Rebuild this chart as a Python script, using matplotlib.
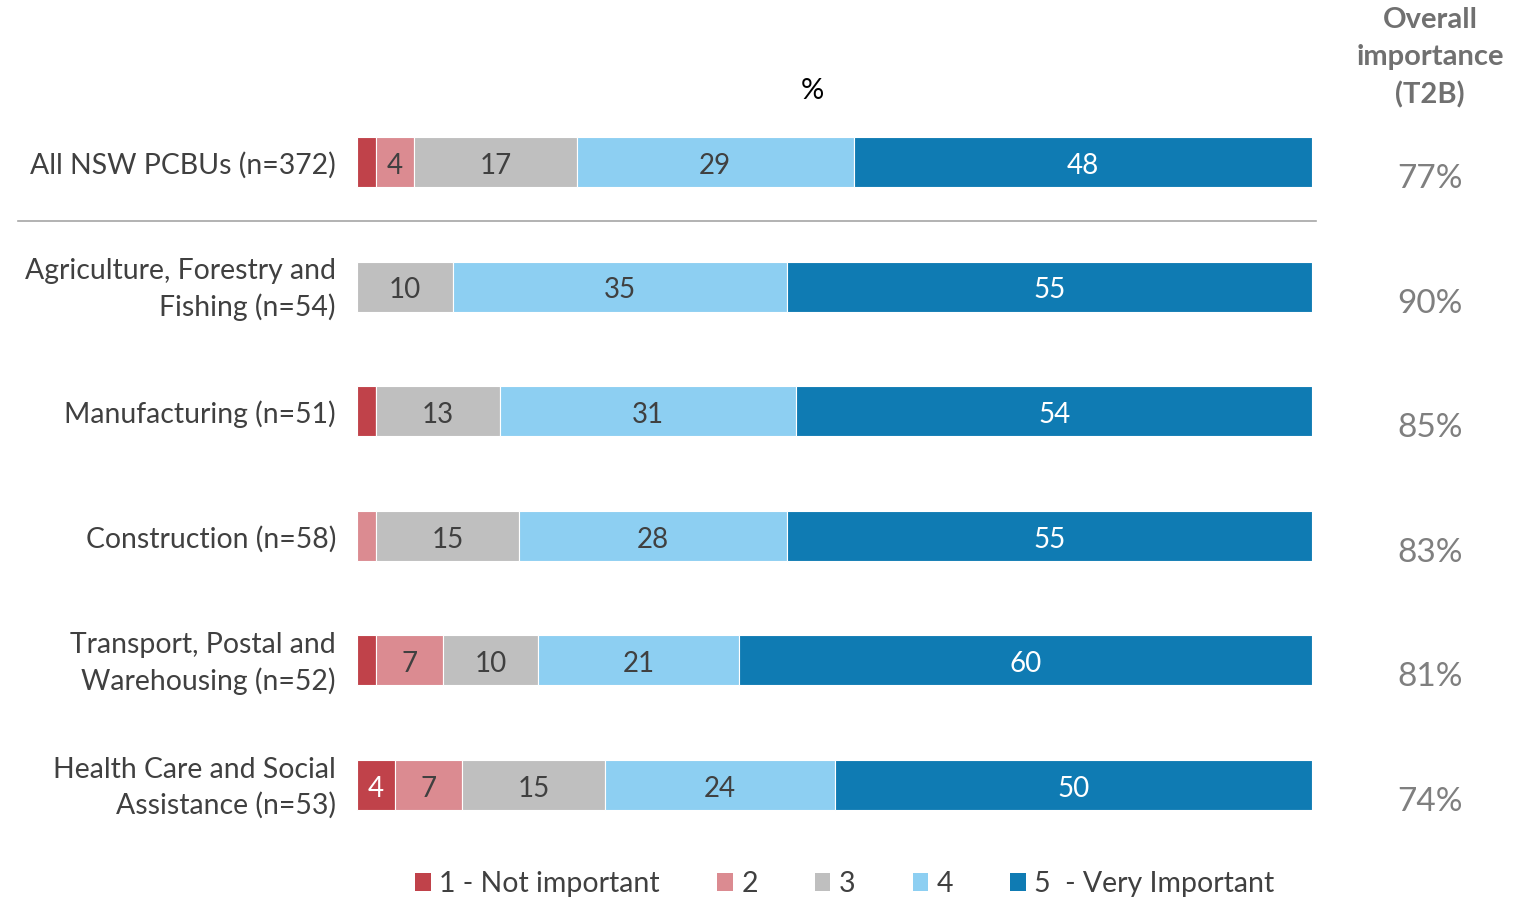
import matplotlib
matplotlib.use("Agg")
import matplotlib.pyplot as plt
from matplotlib.lines import Line2D
from matplotlib.patches import Patch

plt.rcParams['font.family'] = ['Lato', 'DejaVu Sans']

categories = [
    "All NSW PCBUs (n=372)",
    "Agriculture, Forestry and\nFishing (n=54)",
    "Manufacturing (n=51)",
    "Construction (n=58)",
    "Transport, Postal and\nWarehousing (n=52)",
    "Health Care and Social\nAssistance (n=53)",
]
series_names = ["1 - Not important", "2", "3", "4", "5  - Very Important"]
score1 = [2, 0, 2, 0, 2, 4]
score2 = [4, 0, 0, 2, 7, 7]
score3 = [17, 10, 13, 15, 10, 15]
score4 = [29, 35, 31, 28, 21, 24]
score5 = [48, 55, 54, 55, 60, 50]
t2b = [77, 90, 85, 83, 81, 74]

colors = ["#C0424A", "#DB8B91", "#BFBFBF", "#8DCFF2", "#0F7BB3"]
label_colors = ["white", "#404040", "#404040", "#404040", "white"]

W, H = 1534, 900
fig = plt.figure(figsize=(W / 100, H / 100), dpi=100)

# axes spans pixel x 357..1312, rows centred at y=162 + 124.6*i
row_gap = 124.6
top_px = 162 - row_gap / 2
bot_px = 162 + row_gap * 5.5
ax = fig.add_axes([357 / W, 1 - bot_px / H, (1312 - 357) / W, (bot_px - top_px) / H])
ax.set_xlim(0, 100)
ax.set_ylim(5.5, -0.5)
ax.axis("off")

series = [score1, score2, score3, score4, score5]
ypos = list(range(len(categories)))
left = [0] * len(categories)
for vals, col, tcol, name in zip(series, colors, label_colors, series_names):
    ax.barh(ypos, vals, left=left, height=0.40, color=col, edgecolor="white",
            linewidth=0.8, label=name)
    for i, v in enumerate(vals):
        if v >= 4:
            ax.text(left[i] + v / 2, i + 0.03, f"{v}", ha="center", va="center",
                    fontsize=20, color=tcol)
    left = [l + v for l, v in zip(left, vals)]

# category labels on the left
for i, cat in enumerate(categories):
    ax.text(-2.2, i + 0.025, cat, ha="right", va="center", fontsize=20.4,
            color="#404040", linespacing=1.42)

# top-two-box column
for i, v in enumerate(t2b):
    fig.text(1430 / W, 1 - (162 + row_gap * i + 17) / H, f"{v}%", ha="center",
             va="center", fontsize=24, color="#7F7F7F")
fig.text(1430 / W, 1 - 58 / H, "Overall\nimportance\n(T2B)", ha="center",
         va="center", fontsize=21, fontweight="bold", color="#707070",
         linespacing=1.52)

fig.text(812 / W, 1 - 91 / H, "%", ha="center", va="center", fontsize=21,
         color="#000000")

# divider under the total row
fig.add_artist(Line2D([18 / W, 1316 / W], [1 - 221 / H, 1 - 221 / H],
                      color="#A6A6A6", linewidth=1.2))

handles = [Patch(facecolor=c, edgecolor="none") for c in colors]
fig.legend(handles, series_names, loc="center", bbox_to_anchor=(845 / W, 1 - 884 / H),
           ncol=5, frameon=False, fontsize=20.5, handlelength=0.55, handleheight=0.55,
           handletextpad=0.3, columnspacing=2.0, labelcolor="#404040")

fig.savefig("out.png", dpi=100)
